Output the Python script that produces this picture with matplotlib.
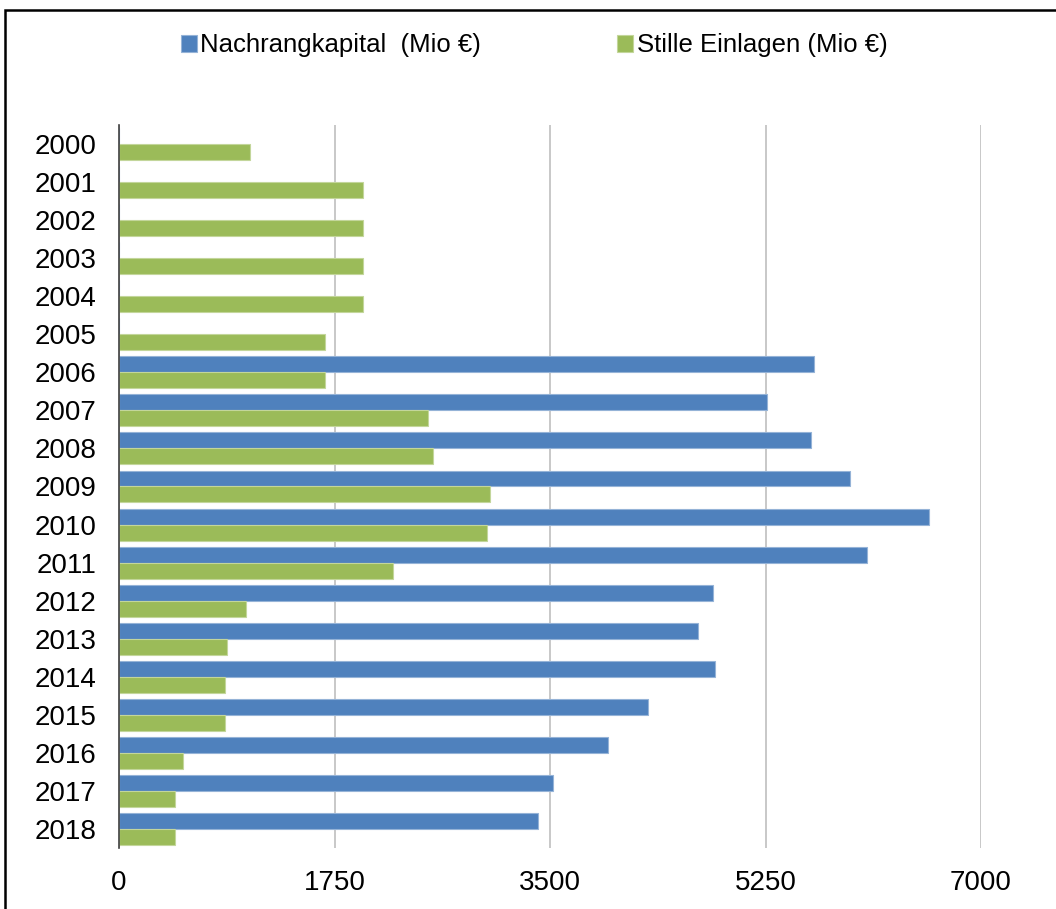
import matplotlib.pyplot as plt
import matplotlib.patches as patches
import numpy as np

plt.rcParams['font.family'] = ['Liberation Sans', 'DejaVu Sans']

years = [str(y) for y in range(2000, 2019)]
# Nachrangkapital: no values before 2006
nachrang = [0, 0, 0, 0, 0, 0, 5644, 5262, 5620, 5936, 6578, 6074,
            4824, 4702, 4840, 4296, 3971, 3524, 3403]
stille = [1064, 1981, 1981, 1981, 1981, 1673, 1673, 2509, 2550, 3013,
          2988, 2225, 1031, 877, 861, 861, 520, 455, 455]
xticks = [0, 1750, 3500, 5250, 7000]

blue = '#4F81BD'
green = '#9BBB59'

fig = plt.figure(figsize=(10.56, 9.09), dpi=100)
ax = fig.add_axes([0.1127, 0.0671, 0.8163, 0.7954])

pos = np.arange(len(years))
h = 0.42
ax.barh(pos - h/2, nachrang, height=h, color=blue, edgecolor='#95B3D7',
        linewidth=0.8, label='Nachrangkapital  (Mio €)', zorder=3)
ax.barh(pos + h/2, stille, height=h, color=green, edgecolor='#C3D69B',
        linewidth=0.8, label='Stille Einlagen (Mio €)', zorder=3)

ax.set_xlim(0, 7000)
ax.set_ylim(len(years) - 0.5, -0.5)
ax.set_xticks(xticks)
ax.set_xticklabels([str(t) for t in xticks], fontsize=20)
ax.set_yticks(pos)
ax.set_yticklabels(years, fontsize=20)
ax.tick_params(axis='both', length=0)
ax.tick_params(axis='x', pad=16)
ax.tick_params(axis='y', pad=16)
ax.grid(axis='x', color='#BFBFBF', linewidth=1.2, zorder=0)
for s in ['top', 'right', 'bottom']:
    ax.spines[s].set_visible(False)
ax.spines['left'].set_color('#404040')
ax.spines['left'].set_linewidth(1.2)
ax.spines['left'].set_zorder(4)

fig.legend(loc='center', bbox_to_anchor=(0.506, 0.95), ncol=2, frameon=False,
           fontsize=18.5, handlelength=0.6, handleheight=0.6,
           handletextpad=0.15, columnspacing=5.3)

# outer frame, cut off at right and bottom like the reference
fig.patches.append(patches.Rectangle((0.005, -0.05), 1.1, 1.039, fill=False,
                                     edgecolor='black', linewidth=1.8,
                                     transform=fig.transFigure, clip_on=False))

fig.savefig('out.png', dpi=100)
